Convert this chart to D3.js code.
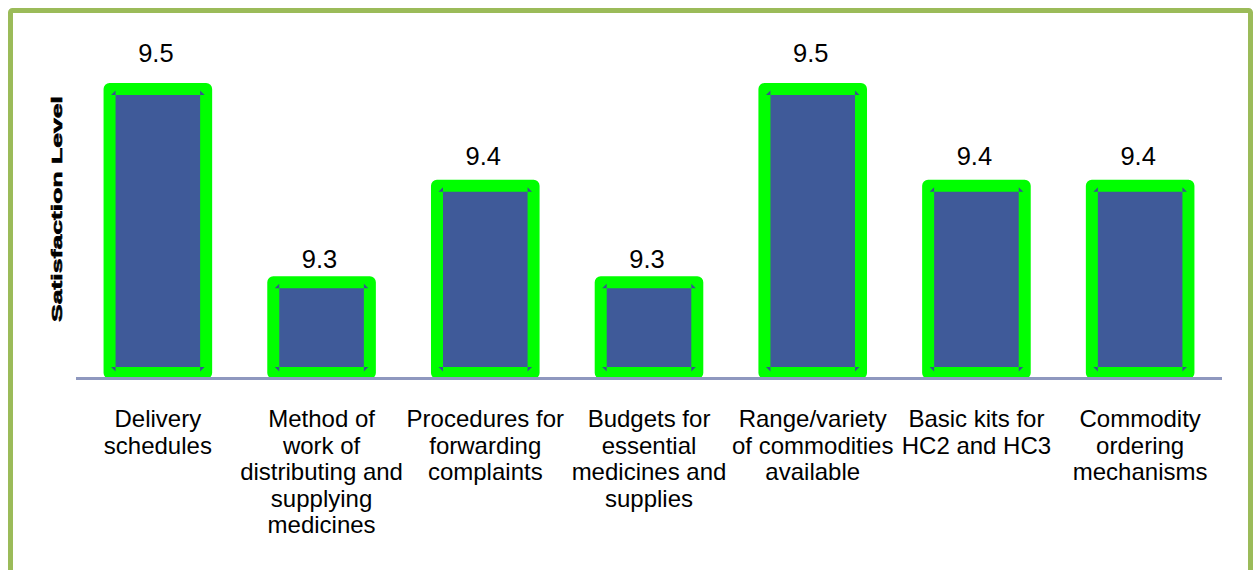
<!DOCTYPE html>
<html>
<head>
<meta charset="utf-8">
<script src="https://cdn.jsdelivr.net/npm/d3@7/dist/d3.min.js"></script>
<style>
  html, body { margin: 0; padding: 0; background: #ffffff; }
  svg { display: block; font-family: "Liberation Sans", Arial, sans-serif; }
</style>
</head>
<body>
<svg id="chart" width="1254" height="570"></svg>
<script>
// Satisfaction level per supply-chain aspect
const categories = [
  "Delivery\nschedules",
  "Method of\nwork of\ndistributing and\nsupplying\nmedicines",
  "Procedures for\nforwarding\ncomplaints",
  "Budgets for\nessential\nmedicines and\nsupplies",
  "Range/variety\nof commodities\navailable",
  "Basic kits for\nHC2 and HC3",
  "Commodity\nordering\nmechanisms"
];
const values = [9.5, 9.3, 9.4, 9.3, 9.5, 9.4, 9.4];
const valueDomain = [9.2, 9.5];
const axisTitle = "Satisfaction Level";

const svg = d3.select("#chart");

// outer frame
svg.append("rect")
  .attr("x", 10.5).attr("y", 10.5)
  .attr("width", 1240).attr("height", 600)
  .attr("rx", 2)
  .attr("fill", "none")
  .attr("stroke", "#9BBB59")
  .attr("stroke-width", 5);

const x = d3.scaleBand()
  .domain(d3.range(categories.length))
  .range([76, 1222])
  .paddingInner(0.41)
  .paddingOuter(0.205);

const y = d3.scaleLinear()
  .domain(valueDomain)
  .range([379, 89]);

// label heights follow the value on their own scale
const labelY = d3.scaleLinear()
  .domain([9.3, 9.5])
  .range([268, 62]);

const baseY = y(valueDomain[0]);
const barBottom = baseY - 6;
const stroke = 12;

const bars = svg.append("g");
bars.selectAll("rect")
  .data(values)
  .join("rect")
  .attr("x", (d, i) => x(i))
  .attr("y", d => y(d))
  .attr("width", x.bandwidth())
  .attr("height", d => barBottom - y(d))
  .attr("fill", "#3F5A99")
  .attr("stroke", "#00FF00")
  .attr("stroke-width", stroke)
  .attr("stroke-linejoin", "round");

// small corner markers at the inner edges of each bar
const h = stroke / 2, t = 4.5;
const corners = [];
values.forEach((d, i) => {
  const x0 = x(i) + h, x1 = x(i) + x.bandwidth() - h;
  const y0 = y(d) + h, y1 = barBottom - h;
  corners.push([[x0, y0], [x0, y0 - t], [x0 - t, y0]]);
  corners.push([[x1, y0], [x1, y0 - t], [x1 + t, y0]]);
  corners.push([[x0, y1], [x0, y1 + t], [x0 - t, y1]]);
  corners.push([[x1, y1], [x1, y1 + t], [x1 + t, y1]]);
});
bars.selectAll("path.corner")
  .data(corners)
  .join("path")
  .attr("class", "corner")
  .attr("d", p => "M" + p.join("L") + "Z")
  .attr("fill", "#3B4F94");

// baseline
svg.append("line")
  .attr("x1", 76).attr("x2", 1222)
  .attr("y1", baseY - 0.5).attr("y2", baseY - 0.5)
  .attr("stroke", "#8F98BF")
  .attr("stroke-width", 3);

// value labels
svg.append("g").selectAll("text")
  .data(values)
  .join("text")
  .attr("x", (d, i) => x(i) + x.bandwidth() / 2 - 2)
  .attr("y", d => labelY(d))
  .attr("text-anchor", "middle")
  .attr("font-size", 25.5)
  .attr("fill", "#000")
  .text(d => d.toFixed(1));

// category labels
const cat = svg.append("g").selectAll("text")
  .data(categories)
  .join("text")
  .attr("text-anchor", "middle")
  .attr("font-size", 24)
  .attr("fill", "#000")
  .attr("transform", (d, i) => `translate(${x(i) + x.bandwidth() / 2},427)`);
cat.selectAll("tspan")
  .data(d => d.split("\n"))
  .join("tspan")
  .attr("x", 0)
  .attr("y", (d, j) => j * 26.5)
  .text(d => d);

// rotated axis title
svg.append("text")
  .attr("transform", "translate(62,322) rotate(-90)")
  .attr("font-size", 15.5)
  .attr("font-weight", "bold")
  .attr("textLength", 226)
  .attr("lengthAdjust", "spacingAndGlyphs")
  .attr("fill", "#000")
  .attr("stroke", "#000")
  .attr("stroke-width", 0.6)
  .text(axisTitle);
</script>
</body>
</html>
